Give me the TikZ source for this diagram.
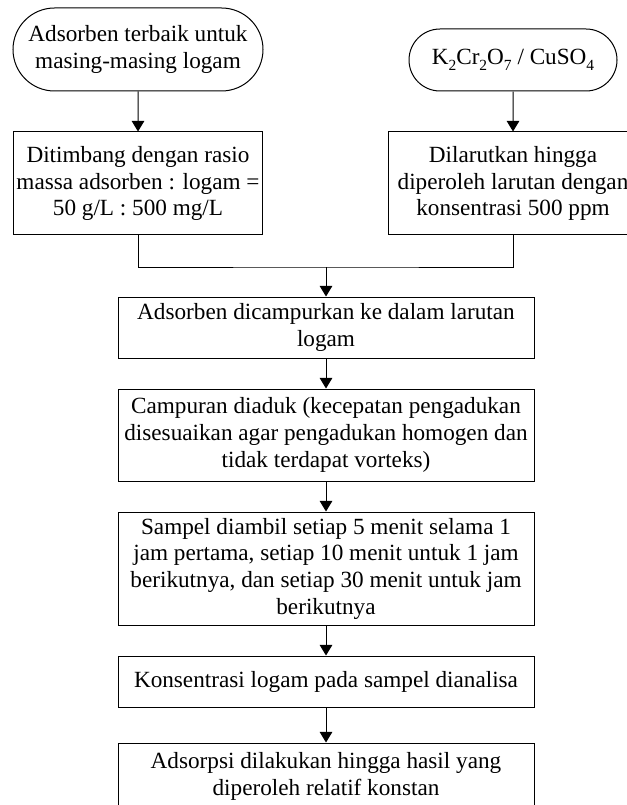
\documentclass[tikz,border=0pt]{standalone}
\usepackage{fontspec}
\setmainfont{Liberation Serif}
\usetikzlibrary{shapes.misc,arrows.meta}
% lowered chemical subscript in the text font
\newcommand\chemsub[1]{\raisebox{-4.5pt}{\fontsize{11.6}{12}\selectfont #1}}
\begin{document}
\begin{tikzpicture}[x=0.75pt,y=-0.75pt,
  txt/.style={font=\fontsize{17.4}{20}\selectfont, align=center, inner sep=0pt, line width=0.75pt, draw=black},
  terminal/.style={txt, rounded rectangle},
  stepbox/.style={txt, rectangle, minimum width=312pt},
  flow/.style={-{Triangle[length=8pt,width=9.5pt]}, line width=0.75pt}]
\useasboundingbox (0,0) rectangle (626,805);

% start terminals
\node[terminal, minimum width=187.5pt, minimum height=62.25pt] (t1) at (138,49.5)
  {Adsorben terbaik untuk\\masing-masing logam};
\node[terminal, minimum width=156pt, minimum height=46.5pt] (t2) at (513,60)
  {K\chemsub{2}Cr\chemsub{2}O\chemsub{7} / CuSO\chemsub{4}};

% preparation steps
\node[txt, minimum width=186.75pt, minimum height=77.25pt] (b1) at (138,183.5)
  {Ditimbang dengan rasio\\massa adsorben : logam =\\50 g/L : 500 mg/L};
\node[txt, minimum width=187.5pt, minimum height=77.25pt] (b2) at (513,183.5)
  {Dilarutkan hingga\\diperoleh larutan dengan\\konsentrasi 500 ppm};

% main sequence
\node[stepbox, minimum height=45.75pt] (b3) at (326,327.5)
  {Adsorben dicampurkan ke dalam larutan\\logam};
\node[stepbox, minimum height=69pt] (b4) at (326,435)
  {Campuran diaduk (kecepatan pengadukan\\disesuaikan agar pengadukan homogen dan\\tidak terdapat vorteks)};
\node[stepbox, minimum height=84.75pt] (b5) at (326,568.5)
  {Sampel diambil setiap 5 menit selama 1\\jam pertama, setiap 10 menit untuk 1 jam\\berikutnya, dan setiap 30 menit untuk jam\\berikutnya};
\node[stepbox, minimum height=38.25pt] (b6) at (326,681.5)
  {Konsentrasi logam pada sampel dianalisa};
\node[stepbox, minimum height=50.25pt] (b7) at (326,776.5)
  {Adsorpsi dilakukan hingga hasil yang\\diperoleh relatif konstan};

% connectors
\coordinate (j) at (326,267);
\draw[flow] (t1) -- (b1);
\draw[flow] (t2) -- (b2);
\draw[line width=0.75pt] (b1.south) |- (j) -| (b2.south);
\draw[flow] (j) -- (b3.north);
\draw[flow] (b3) -- (b4);
\draw[flow] (b4) -- (b5);
\draw[flow] (b5) -- (b6);
\draw[flow] (b6) -- (b7);
\end{tikzpicture}
\end{document}
